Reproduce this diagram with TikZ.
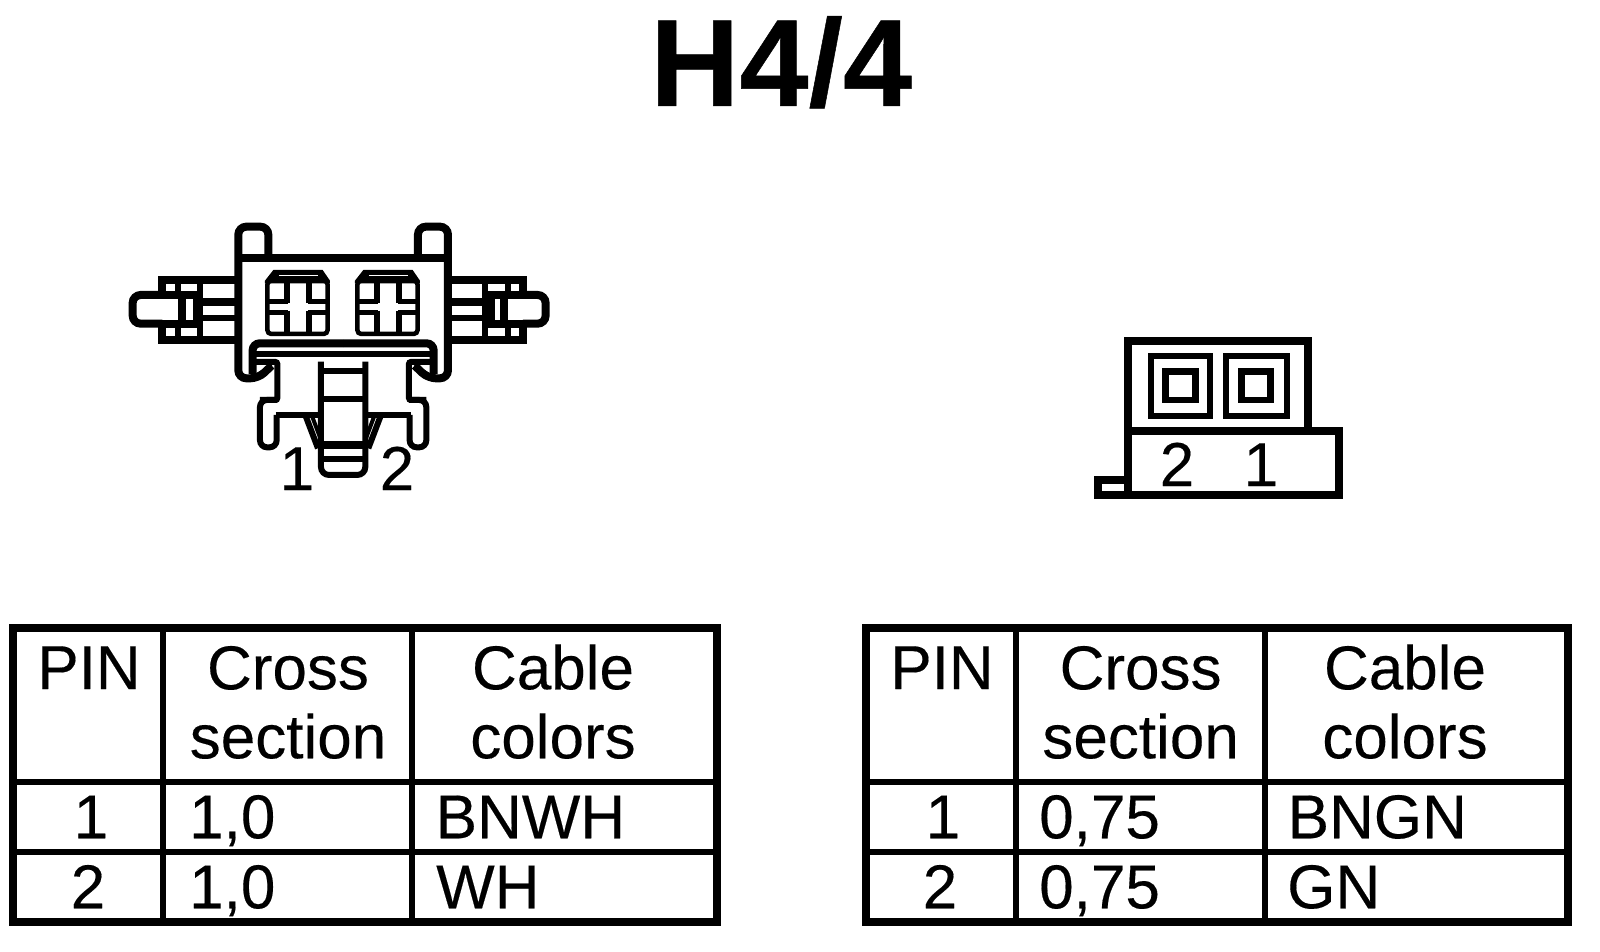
\documentclass[tikz,border=0pt]{standalone}
\usepackage{fontspec}
\setmainfont[FakeBold=0.25,BoldFeatures={FakeBold=0.4}]{Liberation Sans}
\tikzset{
  cell/.style={font=\fontsize{62}{69}\selectfont, inner sep=0pt, anchor=base},
  cellleft/.style={cell, anchor=base west},
  headcell/.style={cell, align=center},
  titletext/.style={font=\fontsize{124}{124}\selectfont\bfseries, inner sep=0pt, anchor=base},
  tableline/.style={line width=6pt},
  tableframe/.style={line width=8pt},
  heavyline/.style={line width=8pt},
  lightline/.style={line width=6pt},
  thinline/.style={line width=3pt}
}

\begin{document}
\begin{tikzpicture}[x=1pt, y=-1pt, line join=miter]
\useasboundingbox (0,0) rectangle (1600,952);
\node (title) [titletext] at (781,106) {H4/4};

\begin{scope}[shift={(110,200)}, x=0.3333pt, y=-0.3333pt]
\draw [heavyline] (385,175) -- (1014,175);
\foreach \mx/\ms in {0/1, 1399/-1} {
  \begin{scope}[shift={(\mx,0)}, xscale=\ms]
  \draw [heavyline, rounded corners=8pt] (475,175) -- (475,80) -- (385,80) -- (385,535) -- (445,535) -- (485,497);
  \draw [heavyline, rounded corners=7pt] (699.5,430) -- (428,430) -- (428,522);
  \draw [lightline] (428,462) -- (699.5,462);
  \draw [lightline, rounded corners=2pt] (438,486) -- (502,486) -- (502,600) -- (450,600);
  \draw [lightline, rounded corners=7pt] (502,600) -- (450,600) -- (450,742) -- (500,742) -- (500,645);
  \draw [lightline] (497,645) -- (632,645);
  \draw [thinline] (440,525) -- (485,495);
  \draw [lightline, rounded corners=8pt] (633,485) -- (633,825) -- (699.5,825);
  \draw [lightline] (633,512) -- (699.5,512);
  \draw [lightline] (633,598) -- (699.5,598);
  \draw [heavyline] (633,735) -- (699.5,735);
  \draw [lightline] (633,778) -- (699.5,778);
  \draw [lightline] (587,648) -- (624,745);
  \draw [line width=4pt] (606,648) -- (630,712);
  \end{scope}
}
\draw [heavyline] (385,239) -- (157,239) -- (157,285);
\draw [heavyline, rounded corners=8pt] (157,285) -- (68,285) -- (68,371) -- (157,371);
\draw [heavyline] (157,371) -- (157,421) -- (385,421);
\draw [heavyline] (157,285) -- (270,285);
\draw [heavyline] (157,371) -- (270,371);
\draw [lightline] (205,239) -- (205,285);
\draw [lightline] (205,371) -- (205,421);
\draw [heavyline] (215,285) -- (215,371);
\draw [heavyline] (262,285) -- (262,371);
\draw [lightline] (270,239) -- (270,421);
\draw [heavyline] (270,307) -- (385,307);
\draw [lightline] (270,353) -- (385,353);
\draw [heavyline] (1014,239) -- (1239,239) -- (1239,285);
\draw [heavyline, rounded corners=8pt] (1239,285) -- (1307,285) -- (1307,371) -- (1239,371);
\draw [heavyline] (1239,371) -- (1239,421) -- (1014,421);
\draw [heavyline] (1126,285) -- (1239,285);
\draw [heavyline] (1126,371) -- (1239,371);
\draw [lightline] (1195,239) -- (1195,285);
\draw [lightline] (1195,371) -- (1195,421);
\draw [heavyline] (1183,285) -- (1183,371);
\draw [heavyline] (1142,285) -- (1142,371);
\draw [lightline] (1126,239) -- (1126,421);
\draw [heavyline] (1014,307) -- (1126,307);
\draw [lightline] (1014,353) -- (1126,353);
\foreach \wx in {435,705} {
  \begin{scope}[shift={(\wx,180)}]
  \draw [line width=4.5pt, rounded corners=4pt] (37,62) -- (37,222) -- (218,222) -- (218,62) -- cycle;
  \fill (30,62) -- (55,30) -- (203,30) -- (225,62) -- (225,70) -- (30,70) -- cycle;
  \draw [white, line width=1pt] (72,47) -- (188,47);
  \draw [lightline] (95,62) -- (95,128);
  \draw [lightline] (95,152) -- (95,222);
  \draw [lightline] (162,62) -- (162,128);
  \draw [lightline] (162,152) -- (162,222);
  \draw [line width=4.5pt] (37,124) -- (98,124);
  \draw [line width=5pt] (37,157) -- (98,157);
  \draw [line width=4.5pt] (159,124) -- (218,124);
  \draw [line width=5pt] (159,157) -- (218,157);
  \end{scope}
}
\end{scope}
\node (pinLa) [cell] at (297,490) {1};
\node (pinLb) [cell] at (397,490) {2};

\draw [tableframe] (1128,431) -- (1128,340.7) -- (1308.3,340.7) -- (1308.3,431);
\draw [tableframe] (1128,479.7) -- (1098.3,479.7) -- (1098.3,494.7) -- (1338.7,494.7) -- (1338.7,431) -- (1128,431) -- (1128,494.7);
\draw [lightline] (1150.7,355.7) rectangle (1210.3,416.3);
\draw [line width=6.5pt] (1165.3,371.7) rectangle (1195.7,400);
\draw [lightline] (1225.7,355.7) rectangle (1286.7,416.3);
\draw [line width=6.5pt] (1241.3,371.7) rectangle (1270.7,400);
\node (pinRb) [cell] at (1177,486) {2};
\node (pinRa) [cell] at (1261,486) {1};

\draw [tableframe] (13,628.3) rectangle (716.5,922);
\draw [tableline] (163,628.3) -- (163,922);
\draw [tableline] (412,628.3) -- (412,922);
\draw [tableline] (13,781.5) -- (716.5,781.5);
\draw [tableline] (13,852) -- (716.5,852);
\node (pinA) [headcell] at (89,689) {PIN};
\node (crossA) [headcell] at (288,758.3) {Cross\\section};
\node (cableA) [headcell] at (553,758.3) {Cable\\colors};
\node (pinAa) [cell] at (91,838.3) {1};
\node (pinAb) [cell] at (88,908.3) {2};
\node (secAa) [cellleft] at (189,838.3) {1,0};
\node (secAb) [cellleft] at (189,908.3) {1,0};
\node (colAa) [cellleft] at (435.5,838.3) {BNWH};
\node (colAb) [cellleft] at (436,908.3) {WH};

\draw [tableframe] (866.2,628.3) rectangle (1568.3,922);
\draw [tableline] (1016.2,628.3) -- (1016.2,922);
\draw [tableline] (1265.3,628.3) -- (1265.3,922);
\draw [tableline] (866.2,781.5) -- (1568.3,781.5);
\draw [tableline] (866.2,852) -- (1568.3,852);
\node (pinB) [headcell] at (942,689) {PIN};
\node (crossB) [headcell] at (1140.6,758.3) {Cross\\section};
\node (cableB) [headcell] at (1405,758.3) {Cable\\colors};
\node (pinBa) [cell] at (943,838.3) {1};
\node (pinBb) [cell] at (940,908.3) {2};
\node (secBa) [cellleft] at (1039,838.3) {0,75};
\node (secBb) [cellleft] at (1039,908.3) {0,75};
\node (colBa) [cellleft] at (1287.5,838.3) {BNGN};
\node (colBb) [cellleft] at (1287,908.3) {GN};
\end{tikzpicture}
\end{document}
